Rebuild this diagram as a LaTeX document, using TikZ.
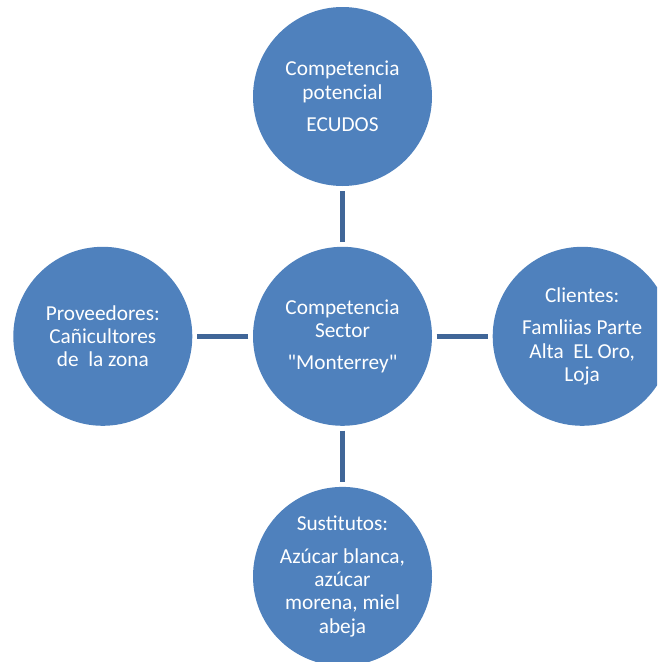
\documentclass[tikz,border=0pt]{standalone}
\usepackage{fontspec}
\setmainfont{Carlito}
\newfontfamily\qfont{Carlito}
\newcommand{\sq}{{\qfont\symbol{34}}}
\definecolor{cfill}{HTML}{4F81BD}
\definecolor{cline}{RGB}{64,102,152}
\begin{document}
\begin{tikzpicture}[x=1pt,y=-1pt,
  bubble/.style={circle,fill=cfill,minimum size=179pt,inner sep=0pt,text=white,align=center,
    font=\fontsize{21.3}{23.3}\selectfont},
  conn/.style={line width=5pt,cline,shorten >=4.5pt,shorten <=4.5pt}]
\useasboundingbox (0,0) rectangle (657,662);
\clip (0,0) rectangle (657,662);
\node[bubble] (c) at (342.5,336.3) {Competencia\\Sector\\[9pt]\sq Monterrey\sq};
\node[bubble] (t) at (342.5,96.5) {Competencia\\potencial\\[9pt]ECUDOS};
\node[bubble] (l) at (102.8,336.3) {Proveedores:\\Cañicultores\\de~~la zona};
\node[bubble] (r) at (582.2,336.3) {Clientes:\\[9pt]Famliias Parte\\Alta~~EL Oro,\\Loja};
\node[bubble] (b) at (342.5,576.4) {Sustitutos:\\[9pt]Azúcar blanca,\\azúcar\\morena, miel\\abeja};
\draw[conn] (c) -- (t);
\draw[conn] (c) -- (l);
\draw[conn] (c) -- (r);
\draw[conn] (c) -- (b);
\end{tikzpicture}
\end{document}
